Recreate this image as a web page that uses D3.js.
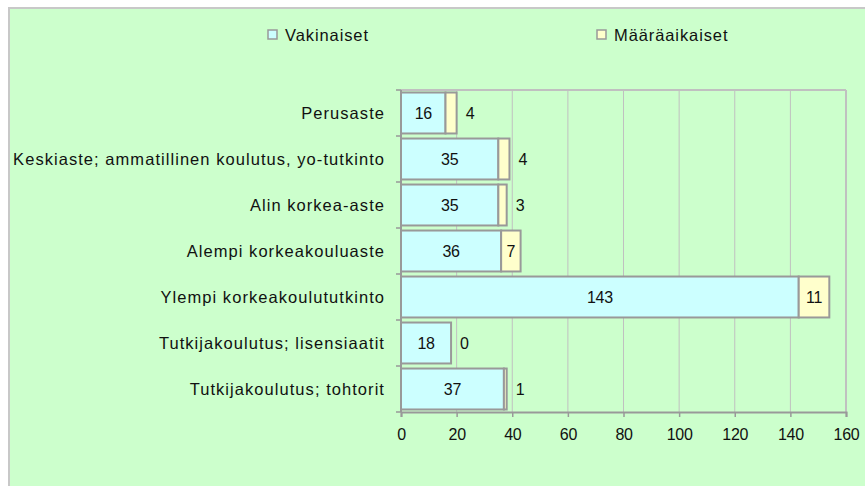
<!doctype html>
<html>
  <head>
    <script src="https://cdnjs.cloudflare.com/ajax/libs/d3/7.8.5/d3.min.js"></script>
    <style>
      body { margin: 0; background: #fff; }
      text { font-family: "Liberation Sans", Arial, sans-serif; fill: #111; }
      rect.vak { fill: #CCFFFF; stroke: #999; stroke-width: 2; }
      rect.maa { fill: #FFFFCC; stroke: #999; stroke-width: 2; }
      line.grid { stroke: #C0C0C0; stroke-width: 1; }
      .lbl { font-size: 16.5px; letter-spacing: 0.9px; }
      .cat { letter-spacing: 1.05px; }
      .num { font-size: 16px; letter-spacing: -0.3px; }
    </style>
  </head>
  <body>
    <svg id="chart" width="865" height="486"></svg>
    <script>
      var categories = ["Perusaste", "Keskiaste;  ammatillinen koulutus, yo-tutkinto", "Alin korkea-aste",
        "Alempi korkeakouluaste", "Ylempi korkeakoulututkinto", "Tutkijakoulutus; lisensiaatit",
        "Tutkijakoulutus; tohtorit"];
      var vakinaiset = [16, 35, 35, 36, 143, 18, 37];
      var maaraaikaiset = [4, 4, 3, 7, 11, 0, 1];
      var seriesNames = ["Vakinaiset", "Määräaikaiset"];
      var xTicks = [0, 20, 40, 60, 80, 100, 120, 140, 160];

      drawChart();

      function drawChart() {
        var svg = d3.select("#chart");
        var mLeft = 401, mRight = 846, mTop = 90, mBottom = 412;

        // background panel
        svg.append("rect").attr("x", 9).attr("y", 8).attr("width", 860).attr("height", 482)
          .attr("fill", "#CCFFCC").attr("stroke", "#C8C8C8").attr("stroke-width", 2);

        var x = d3.scaleLinear().domain([0, 160]).range([mLeft, mRight]);
        var y = d3.scaleBand().domain(categories).range([mTop, mBottom])
          .paddingInner(0.11).paddingOuter(0.055);

        // grid
        svg.selectAll("line.grid").data(xTicks.slice(1)).enter().append("line")
          .attr("class", "grid")
          .attr("x1", d => x(d)).attr("x2", d => x(d))
          .attr("y1", mTop).attr("y2", mBottom);
        svg.append("line").attr("x1", mLeft).attr("x2", mRight).attr("y1", mTop).attr("y2", mTop)
          .attr("stroke", "#C0C0C0").attr("stroke-width", 2);
        svg.append("line").attr("x1", mRight).attr("x2", mRight).attr("y1", mTop).attr("y2", mBottom)
          .attr("stroke", "#C0C0C0").attr("stroke-width", 2);

        var rows = categories.map((c, i) => ({ cat: c, v: vakinaiset[i], m: maaraaikaiset[i] }));

        var g = svg.selectAll("g.row").data(rows).enter().append("g").attr("class", "row");
        g.append("rect").attr("class", "vak")
          .attr("x", x(0)).attr("y", d => y(d.cat))
          .attr("width", d => x(d.v) - x(0)).attr("height", y.bandwidth());
        g.filter(d => d.m > 0).append("rect").attr("class", "maa")
          .attr("x", d => x(d.v)).attr("y", d => y(d.cat))
          .attr("width", d => x(d.v + d.m) - x(d.v)).attr("height", y.bandwidth());

        g.append("text").attr("class", "num")
          .attr("x", d => (x(0) + x(d.v)) / 2)
          .attr("y", d => y(d.cat) + y.bandwidth() / 2)
          .attr("dy", "0.36em").attr("text-anchor", "middle")
          .text(d => d.v);
        // small segments get their label just past the bar end
        var fits = d => x(d.v + d.m) - x(d.v) > 16;
        g.append("text").attr("class", "num")
          .attr("x", d => fits(d) ? (x(d.v) + x(d.v + d.m)) / 2 : x(d.v + d.m) + 9)
          .attr("y", d => y(d.cat) + y.bandwidth() / 2)
          .attr("dy", "0.36em")
          .attr("text-anchor", d => fits(d) ? "middle" : "start")
          .text(d => d.m);

        // axes
        var xAxis = svg.append("g").attr("transform", "translate(0," + mBottom + ")")
          .call(d3.axisBottom(x).tickValues(xTicks).tickSize(5).tickPadding(12));
        xAxis.select(".domain").attr("stroke", "#999").attr("stroke-width", 2);
        xAxis.selectAll(".tick line").attr("stroke", "#999").attr("stroke-width", 1.5);
        xAxis.selectAll(".tick text").attr("class", "num").attr("font-size", null)
          .attr("font-family", null).attr("fill", "#111");

        var yTickPos = d3.range(categories.length + 1).map(i => mTop + i * y.step());
        var yAxis = svg.append("g");
        yAxis.append("line").attr("x1", mLeft).attr("x2", mLeft).attr("y1", mTop).attr("y2", mBottom)
          .attr("stroke", "#999").attr("stroke-width", 2);
        yAxis.selectAll("line.tk").data(yTickPos).enter().append("line")
          .attr("x1", mLeft - 5).attr("x2", mLeft).attr("y1", d => d).attr("y2", d => d)
          .attr("stroke", "#999").attr("stroke-width", 1.5);
        yAxis.selectAll("text").data(categories).enter().append("text").attr("class", "lbl cat")
          .attr("x", 385).attr("y", d => y(d) + y.bandwidth() / 2).attr("dy", "0.36em")
          .attr("text-anchor", "end")
          .text(d => d);

        // legend
        var legX = [268, 597];
        var leg = svg.selectAll("g.leg").data(seriesNames).enter().append("g")
          .attr("transform", (d, i) => "translate(" + legX[i] + ",30)");
        leg.append("rect").attr("width", 9).attr("height", 9)
          .attr("fill", (d, i) => i === 0 ? "#CCFFFF" : "#FFFFCC").attr("stroke", "#999").attr("stroke-width", 1.5);
        leg.append("text").attr("class", "lbl").attr("x", 17).attr("y", 5).attr("dy", "0.36em")
          .text(d => d);
      }
    </script>
  </body>
</html>
